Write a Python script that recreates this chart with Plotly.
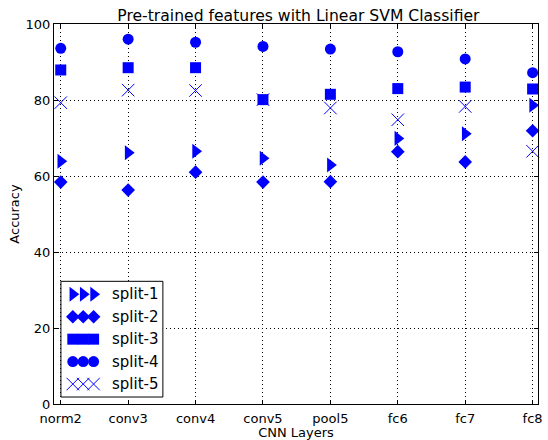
import plotly.graph_objects as go

# CNN layers evaluated and accuracy per split
layers = ["norm2", "conv3", "conv4", "conv5", "pool5", "fc6", "fc7", "fc8"]
split1 = [63.9, 66.1, 66.5, 64.7, 62.9, 69.9, 71.1, 78.6]
split2 = [58.4, 56.3, 61.0, 58.4, 58.5, 66.4, 63.7, 71.9]
split3 = [87.9, 88.5, 88.5, 80.1, 81.5, 83.0, 83.4, 82.9]
split4 = [93.6, 96.0, 95.2, 94.1, 93.4, 92.7, 90.8, 87.2]
split5 = [79.3, 82.6, 82.5, 80.1, 77.9, 74.8, 78.3, 66.5]
series_names = ["split-1", "split-2", "split-3", "split-4", "split-5"]
y_ticks = [0, 20, 40, 60, 80, 100]

BLUE = "#0000ff"
FONT = "DejaVu Sans"
W, H = 548, 440
ML, MR, MT, MB = 54, 5, 24, 35

styles = [
    dict(symbol="triangle-right", size=13, color=BLUE, line=dict(width=0)),
    dict(symbol="diamond", size=10.5, color=BLUE, line=dict(width=0)),
    dict(symbol="square", size=11, color=BLUE, line=dict(width=0)),
    dict(symbol="circle", size=11, color=BLUE, line=dict(width=0)),
    dict(symbol="x-thin", size=12.5, color=BLUE, line=dict(width=1, color=BLUE)),
]
series = [split1, split2, split3, split4, split5]

fig = go.Figure()
for name, vals, st in zip(series_names, series, styles):
    fig.add_trace(go.Scatter(x=layers, y=vals, mode="markers", name=name,
                             marker=st, showlegend=False, cliponaxis=False))

# Legend drawn on a pixel-space overlay axis so each entry shows three glyphs
px_left, px_right = ML, W - MR
px_top, px_bottom = MT, H - MB
box_x0, box_x1, box_y0, box_y1 = 61, 164, 282, 398
row_y0, row_step = 295, 22.5
glyph_x = [73, 83.5, 94]
text_x = 111

fig.add_trace(go.Scatter(
    x=[box_x0, box_x1, box_x1, box_x0, box_x0],
    y=[box_y0, box_y0, box_y1, box_y1, box_y0],
    mode="lines", fill="toself", fillcolor="white",
    line=dict(color="black", width=1), xaxis="x2", yaxis="y2",
    showlegend=False, hoverinfo="skip"))
for i, (name, st) in enumerate(zip(series_names, styles)):
    ry = row_y0 + i * row_step
    fig.add_trace(go.Scatter(
        x=glyph_x, y=[ry] * len(glyph_x), mode="markers", marker=st,
        xaxis="x2", yaxis="y2", showlegend=False, hoverinfo="skip",
        cliponaxis=False))
    fig.add_annotation(x=text_x, y=ry, xref="x2", yref="y2", text=name,
                       showarrow=False, xanchor="left", yanchor="middle",
                       font=dict(family=FONT, size=15, color="black"))

axis_common = dict(showline=True, linecolor="black", linewidth=1, mirror="allticks",
                   ticks="inside", ticklen=4, tickwidth=1, tickcolor="black",
                   showgrid=True, gridcolor="black", gridwidth=1, griddash="1px,3px",
                   zeroline=False, tickfont=dict(family=FONT, size=13, color="black"))

fig.update_layout(
    width=W, height=H,
    margin=dict(l=ML, r=MR, t=MT, b=MB),
    paper_bgcolor="white", plot_bgcolor="white",
    font=dict(family=FONT, size=13, color="black"),
    title=dict(text="Pre-trained features with Linear SVM Classifier",
               x=0.505, xref="paper", y=1 - 15.5 / H, yref="container",
               xanchor="center", yanchor="middle",
               font=dict(family=FONT, size=15.6, color="black")),
    xaxis=dict(axis_common, type="category", range=[-0.1, 7.08],
               ticklabelstandoff=2,
               title=dict(text="CNN Layers", standoff=0,
                          font=dict(family=FONT, size=13))),
    yaxis=dict(axis_common, range=[0, 100], tickvals=y_ticks,
               title=dict(text="Accuracy", standoff=3,
                          font=dict(family=FONT, size=13))),
    xaxis2=dict(overlaying="x", range=[px_left, px_right], visible=False,
                fixedrange=True),
    yaxis2=dict(overlaying="y", range=[px_bottom, px_top], visible=False,
                fixedrange=True),
    showlegend=False,
)

fig.write_html("out.html")
